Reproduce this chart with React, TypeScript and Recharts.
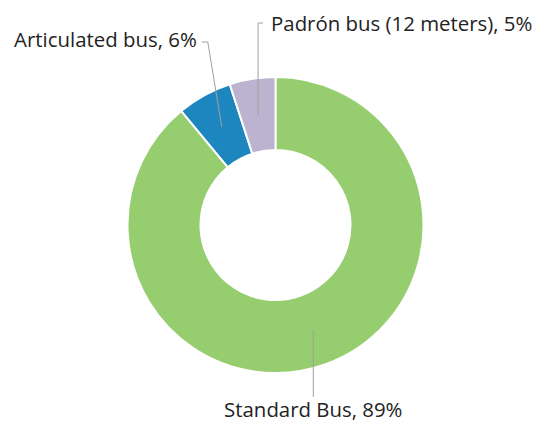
import { Pie, PieChart, Cell } from "recharts";

const categories = ["Standard Bus", "Articulated bus", "Padrón bus (12 meters)"];
const shares = [89, 6, 5];
const colors = ["#95cd6f", "#1e86bf", "#bbb3cf"];

const data = categories.map((name, i) => ({ name, value: shares[i] }));

const RADIAN = Math.PI / 180;
const FONT = "'Open Sans', Lato, sans-serif";
const FS = 20.4;

function renderLabel(props: any) {
  const { cx, cy, midAngle, innerRadius, outerRadius, index, name, value } = props;
  const r = (innerRadius + outerRadius) / 2;
  const x0 = cx + r * Math.cos(-midAngle * RADIAN);
  const y0 = cy + r * Math.sin(-midAngle * RADIAN);
  const text = `${name}, ${value}%`;
  const lineStyle = { stroke: "#a0a0a0", strokeWidth: 1, fill: "none" };
  const textStyle = { fontSize: FS, fill: "#222", fontFamily: FONT };

  if (index === 0) {
    const y1 = cy + outerRadius + 24;
    return (
      <g key="lbl0">
        <path d={`M${x0},${y0}L${x0},${y1}`} {...lineStyle} />
        <text x={x0} y={y1 + 20} textAnchor="middle" {...textStyle}>
          {text}
        </text>
      </g>
    );
  }
  if (index === 1) {
    const x1 = x0 - 14;
    const y1 = cy - outerRadius - 35;
    return (
      <g key="lbl1">
        <path d={`M${x0},${y0}L${x1},${y1}L${x1 - 6},${y1}`} {...lineStyle} />
        <text x={x1 - 11} y={y1 + 5} textAnchor="end" {...textStyle}>
          {text}
        </text>
      </g>
    );
  }
  const y1 = cy - outerRadius - 54;
  return (
    <g key="lbl2">
      <path d={`M${x0},${y0}L${x0},${y1}L${x0 + 5},${y1}`} {...lineStyle} />
      <text x={x0 + 13} y={y1 + 8} textAnchor="start" {...textStyle}>
        {text}
      </text>
    </g>
  );
}

export default function App() {
  return (
    <div style={{ position: "absolute", left: 0, top: 0, background: "#fff", width: 535, height: 425 }}>
      <PieChart width={535} height={425} margin={{ top: 0, right: 0, bottom: 0, left: 0 }}>
        <Pie
          data={data}
          dataKey="value"
          nameKey="name"
          cx={275.5}
          cy={225}
          innerRadius={75}
          outerRadius={148}
          startAngle={90}
          endAngle={-270}
          stroke="#fff"
          strokeWidth={2}
          label={renderLabel}
          labelLine={false}
          isAnimationActive={false}
        >
          {data.map((d, i) => (
            <Cell key={d.name} fill={colors[i]} />
          ))}
        </Pie>
      </PieChart>
    </div>
  );
}
